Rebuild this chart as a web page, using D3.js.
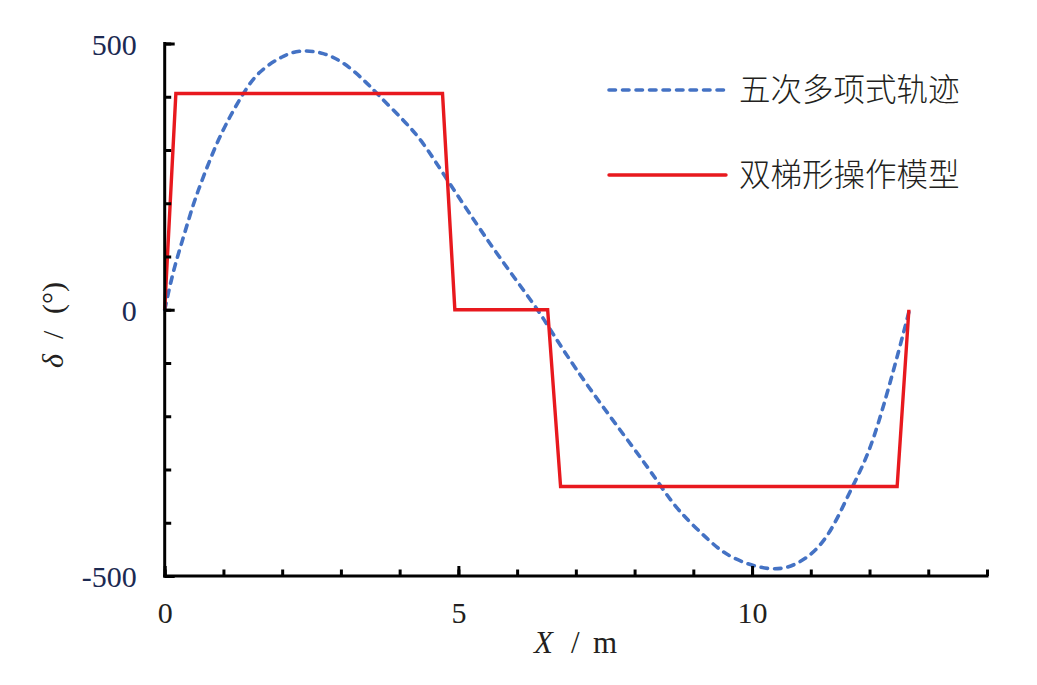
<!DOCTYPE html>
<html>
<head>
<meta charset="utf-8">
<script src="https://cdn.jsdelivr.net/npm/d3@7"></script>
<style>
  html, body { margin: 0; padding: 0; background: #fff; }
  svg { display: block; }
</style>
</head>
<body>
<svg id="chart" width="1037" height="685"></svg>
<script>
// ---- data ----
const seriesNames = ["五次多项式轨迹", "双梯形操作模型"];

// quintic polynomial trajectory: X (m) and delta (deg)
const polyX = [0, 0.15, 0.32, 0.49, 0.66, 0.88, 1.11, 1.34, 1.62, 2.02, 2.36, 2.70, 3.04, 3.38, 3.66, 4.06, 4.40, 4.77, 5.19, 5.70, 6.27, 6.61, 7.18, 7.97, 8.42, 8.76, 9.22, 9.67, 10.29, 10.80, 11.26, 11.65, 11.99, 12.28, 12.50, 12.68];
const polyDelta = [0, 72, 137, 198, 250, 310, 362, 406, 446, 476, 486, 481, 463, 432, 401, 356, 312, 251, 181, 99, 12, -45, -139, -258, -327, -377, -428, -465, -486, -474, -427, -346, -264, -164, -76, 0];

// double trapezoid operation model
const trapX = [0, 0.19, 4.73, 4.94, 6.52, 6.74, 12.47, 12.67];
const trapDelta = [0, 406, 406, 0, 0, -332, -332, 0];

// axes ticks
const xMinorTicks = [0,1,2,3,4,5,6,7,8,9,10,11,12,13,14];
const xMajorTicks = [0, 5, 10];
const xTickLabels = ["0", "5", "10"];
const yMinorTicks = [-500,-400,-300,-200,-100,0,100,200,300,400,500];
const yMajorTicks = [-500, 0, 500];
const yTickLabels = ["-500", "0", "500"];

// ---- layout ----
const svg = d3.select("#chart");
const x = d3.scaleLinear().domain([0, 14]).range([164.7, 987]);
const y = d3.scaleLinear().domain([-500, 500]).range([576, 43.5]);

const blue = "#4472c4";
const red = "#e8191e";
const numFont = "'Liberation Serif', 'Times New Roman', serif";
const cjkFont = "'Noto Sans CJK SC', sans-serif";

// ---- series ----
const polyData = polyX.map((v, i) => [v, polyDelta[i]]);
const trapData = trapX.map((v, i) => [v, trapDelta[i]]);

const smooth = d3.line().x(d => x(d[0])).y(d => y(d[1])).curve(d3.curveNatural);
const straight = d3.line().x(d => x(d[0])).y(d => y(d[1]));

svg.append("path")
  .attr("d", smooth(polyData))
  .attr("fill", "none")
  .attr("stroke", blue)
  .attr("stroke-width", 3.6)
  .attr("stroke-dasharray", "6.5,7")
  .attr("stroke-linecap", "round");

svg.append("path")
  .attr("d", straight(trapData))
  .attr("fill", "none")
  .attr("stroke", red)
  .attr("stroke-width", 3.4)
  .attr("stroke-linejoin", "miter");

// ---- axes ----
const axisG = svg.append("g");

// x axis minor ticks
axisG.append("g")
  .attr("transform", `translate(0,${y(-500)})`)
  .call(d3.axisBottom(x).tickValues(xMinorTicks).tickSizeInner(-6.5).tickSizeOuter(0).tickFormat(""))
  .call(g => g.select(".domain").remove())
  .call(g => g.selectAll("line").attr("stroke", "#000").attr("stroke-width", 3));

// x axis major ticks + labels
const xMaj = axisG.append("g")
  .attr("transform", `translate(0,${y(-500)})`)
  .call(d3.axisBottom(x).tickValues(xMajorTicks).tickSizeInner(-10).tickSizeOuter(0)
        .tickFormat((d, i) => xTickLabels[i]))
  .call(g => g.select(".domain").remove());
xMaj.selectAll("line").attr("stroke", "#000").attr("stroke-width", 3);
xMaj.selectAll("text")
  .attr("y", 47).attr("dy", 0)
  .attr("font-family", numFont).attr("font-size", 30)
  .attr("fill", "#231f20");

// y axis minor ticks
axisG.append("g")
  .attr("transform", `translate(${x(0)},0)`)
  .call(d3.axisLeft(y).tickValues(yMinorTicks).tickSizeInner(-6.5).tickSizeOuter(0).tickFormat(""))
  .call(g => g.select(".domain").remove())
  .call(g => g.selectAll("line").attr("stroke", "#000").attr("stroke-width", 3));

// y axis major ticks + labels
const yMaj = axisG.append("g")
  .attr("transform", `translate(${x(0)},0)`)
  .call(d3.axisLeft(y).tickValues(yMajorTicks).tickSizeInner(-10).tickSizeOuter(0)
        .tickFormat((d, i) => yTickLabels[i]))
  .call(g => g.select(".domain").remove());
yMaj.selectAll("line").attr("stroke", "#000").attr("stroke-width", 3);
yMaj.selectAll("text")
  .attr("x", -28).attr("dy", 10.5)
  .attr("text-anchor", "end")
  .attr("font-family", numFont).attr("font-size", 30)
  .attr("fill", "#1c2a52");

// axis lines
axisG.append("line")
  .attr("x1", x(0)).attr("x2", x(0)).attr("y1", y(500) - 1.5).attr("y2", y(-500) + 1.5)
  .attr("stroke", "#000").attr("stroke-width", 3);
axisG.append("line")
  .attr("x1", x(0) - 1.5).attr("x2", x(14) + 1.5).attr("y1", y(-500)).attr("y2", y(-500))
  .attr("stroke", "#000").attr("stroke-width", 3);

// ---- axis titles ----
const xt = svg.append("g").attr("font-family", numFont).attr("font-size", 31).attr("fill", "#231f20");
xt.append("text").attr("x", 534).attr("y", 653).attr("font-style", "italic").text("X");
xt.append("text").attr("x", 571).attr("y", 653).text("/");
xt.append("text").attr("x", 593).attr("y", 653).text("m");

const yt = svg.append("g").attr("transform", "rotate(-90)")
  .attr("font-family", numFont).attr("font-size", 30).attr("fill", "#231f20");
yt.append("text").attr("x", -368).attr("y", 63).attr("font-style", "italic").text("δ");
yt.append("text").attr("x", -339).attr("y", 63).text("/");
yt.append("text").attr("x", -314).attr("y", 63).text("(°)");

// ---- legend ----
const legend = svg.append("g");
const legendItems = [
  { name: seriesNames[0], color: blue, dash: "6.5,7", cy: 90 },
  { name: seriesNames[1], color: red, dash: null, cy: 175 }
];
legendItems.forEach(it => {
  legend.append("line")
    .attr("x1", 609).attr("x2", 726).attr("y1", it.cy).attr("y2", it.cy)
    .attr("stroke", it.color).attr("stroke-width", it.dash ? 3.6 : 3.4)
    .attr("stroke-linecap", "round")
    .attr("stroke-dasharray", it.dash);
  legend.append("text")
    .attr("x", 739).attr("y", it.cy).attr("dy", "0.36em")
    .attr("font-family", cjkFont).attr("font-size", 31.5).attr("font-weight", 300)
    .attr("fill", "#231f20")
    .text(it.name);
});
</script>
</body>
</html>
